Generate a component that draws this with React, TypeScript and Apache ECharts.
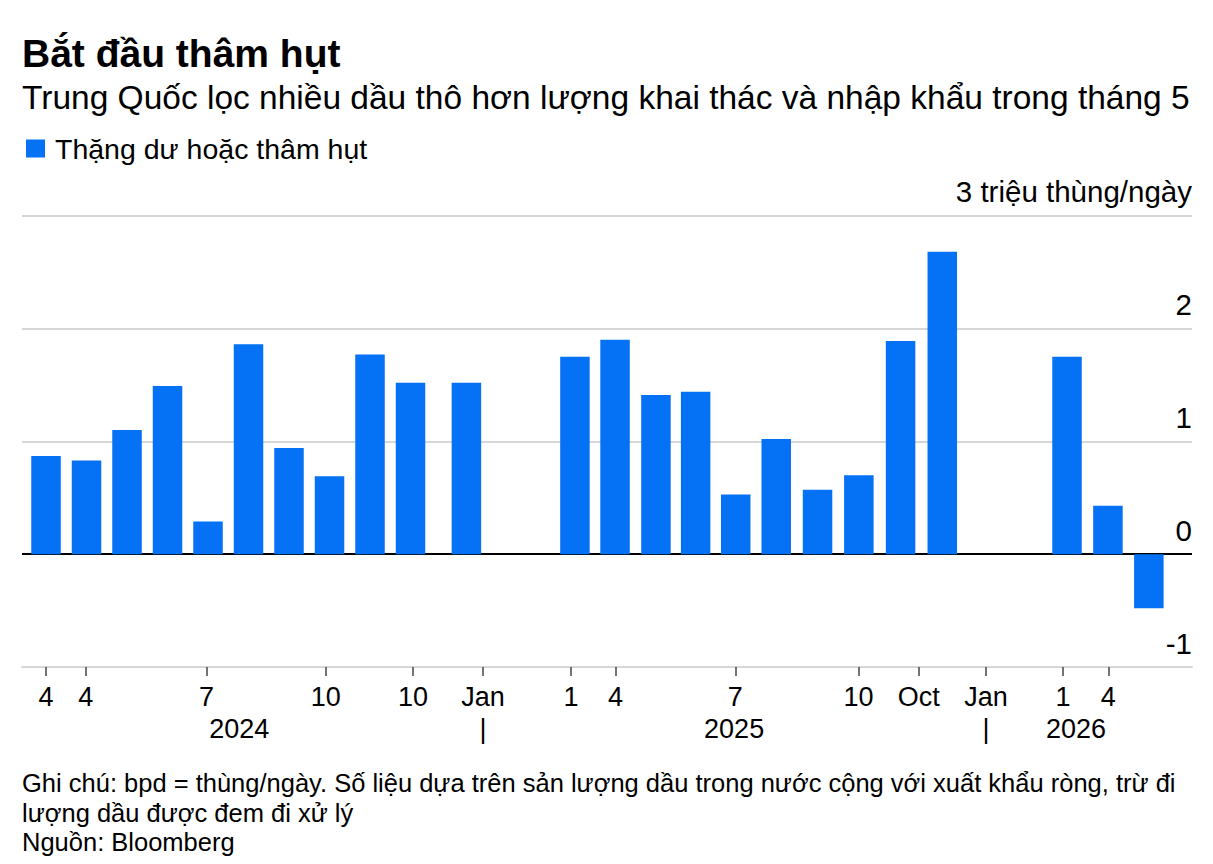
import React, { useEffect, useRef } from "react";
import * as echarts from "echarts";

// Bar positions along the x axis (slot units; first bar = 0)
const xPos = [0, 1, 2, 3, 4, 5, 6, 7, 8, 9, 10.38, 13.06, 14.05, 15.06, 16.04, 17.03, 18.03, 19.05, 20.07, 21.1, 22.13, 25.21, 26.22, 27.23];
// Surplus or deficit, million barrels/day
const values = [0.87, 0.83, 1.1, 1.49, 0.29, 1.86, 0.94, 0.69, 1.77, 1.52, 1.52, 1.75, 1.9, 1.41, 1.44, 0.53, 1.02, 0.57, 0.7, 1.89, 2.68, 1.75, 0.43, -0.48];

// Month tick labels
const tickPos = [0, 0.98, 3.96, 6.91, 9.06, 10.79, 12.96, 14.06, 17.02, 20.06, 21.55, 23.21, 25.11, 26.23];
const tickLabels = ["4", "4", "7", "10", "10", "Jan", "1", "4", "7", "10", "Oct", "Jan", "1", "4"];

// Year row labels
const yearPos = [4.77, 10.79, 16.99, 23.21, 25.43];
const yearLabels = ["2024", "|", "2025", "|", "2026"];

const X_MIN = -0.593;
const X_MAX = 28.296;
const Y_MIN = -1;
const Y_MAX = 3;

const seriesName = "Thặng dư hoặc thâm hụt";
const title = "Bắt đầu thâm hụt";
const subtitle = "Trung Quốc lọc nhiều dầu thô hơn lượng khai thác và nhập khẩu trong tháng 5";
const noteLines = [
  "Ghi chú: bpd = thùng/ngày. Số liệu dựa trên sản lượng dầu trong nước cộng với xuất khẩu ròng, trừ đi",
  "lượng dầu được đem đi xử lý",
  "Nguồn: Bloomberg",
];

const FONT = "'Liberation Sans', Arial, Helvetica, sans-serif";
const BLUE = "#0571f5";
const GRID = "#d6d6d6";

function lookup(pos: number[], labels: string[], v: number): string {
  for (let i = 0; i < pos.length; i++) {
    if (Math.abs(pos[i] - v) < 1e-6) return labels[i];
  }
  return "";
}

export default function App() {
  const ref = useRef<HTMLDivElement>(null);

  useEffect(() => {
    document.body.style.margin = "0";
    if (!ref.current) return;
    const chart = echarts.init(ref.current, null, { renderer: "svg" });

    const textEl = (text: string, x: number, baseline: number, size: number, weight: string | number = "normal") => ({
      type: "text",
      x,
      y: baseline - 0.347 * size,
      silent: true,
      style: {
        text,
        fontSize: size,
        fontWeight: weight,
        fontFamily: FONT,
        fill: "#000",
        align: "left",
        verticalAlign: "middle",
        textAlign: "left",
        textVerticalAlign: "middle",
      },
    });

    const option: any = {
      animation: false,
      backgroundColor: "#fff",
      textStyle: { fontFamily: FONT },
      grid: {
        left: 22,
        right: 21,
        top: 215.7,
        bottom: 197,
        containLabel: false,
      },
      legend: {
        data: [seriesName],
        left: 26,
        top: 134,
        padding: 0,
        icon: "rect",
        itemWidth: 19,
        itemHeight: 18,
        selectedMode: false,
        textStyle: {
          fontSize: 28.5,
          lineHeight: 29,
          color: "#000",
          fontFamily: FONT,
          padding: [0, 0, 0, 5],
        },
      },
      xAxis: [
        {
          type: "value",
          min: X_MIN,
          max: X_MAX,
          position: "bottom",
          splitLine: { show: false },
          axisLine: { show: true, onZero: false, lineStyle: { color: GRID, width: 2 } },
          axisTick: {
            show: true,
            customValues: tickPos,
            length: 9,
            lineStyle: { color: "#444", width: 1.5 },
          },
          axisLabel: {
            show: true,
            customValues: tickPos,
            margin: 16,
            fontSize: 27,
            lineHeight: 27,
            color: "#000",
            fontFamily: FONT,
            formatter: (v: number) => lookup(tickPos, tickLabels, v),
          },
        },
        {
          type: "value",
          min: X_MIN,
          max: X_MAX,
          position: "bottom",
          offset: 32,
          splitLine: { show: false },
          axisLine: { show: false, onZero: false },
          axisTick: { show: false },
          axisLabel: {
            show: true,
            customValues: yearPos,
            margin: 16,
            fontSize: 27,
            lineHeight: 27,
            color: "#000",
            fontFamily: FONT,
            formatter: (v: number) => lookup(yearPos, yearLabels, v),
          },
        },
      ],
      yAxis: {
        type: "value",
        position: "right",
        min: Y_MIN,
        max: Y_MAX,
        interval: 1,
        axisLine: { show: false },
        axisTick: { show: false },
        splitLine: {
          show: true,
          lineStyle: { color: [GRID, "#000", GRID, GRID, GRID], width: 2 },
        },
        axisLabel: {
          inside: true,
          margin: 0,
          fontSize: 29.5,
          lineHeight: 29.5,
          color: "#000",
          fontFamily: FONT,
          verticalAlign: "bottom",
          padding: [0, 0, 9, 0],
          formatter: (v: number) => (v === Y_MAX ? `${v} triệu thùng/ngày` : `${v}`),
        },
      },
      series: [
        {
          name: seriesName,
          type: "bar",
          xAxisIndex: 0,
          barWidth: 29.5,
          itemStyle: { color: BLUE },
          data: xPos.map((x, i) => [x, values[i]]),
        },
      ],
      graphic: [
        textEl(title, 22, 67, 39, "bold"),
        textEl(subtitle, 22, 109.5, 33.5),
        textEl(noteLines[0], 22, 791.7, 25.5),
        textEl(noteLines[1], 22, 821.5, 25.5),
        textEl(noteLines[2], 22, 850.5, 25.5),
      ],
    };

    chart.setOption(option);
    return () => chart.dispose();
  }, []);

  return <div ref={ref} style={{ width: 1213, height: 864 }} />;
}
